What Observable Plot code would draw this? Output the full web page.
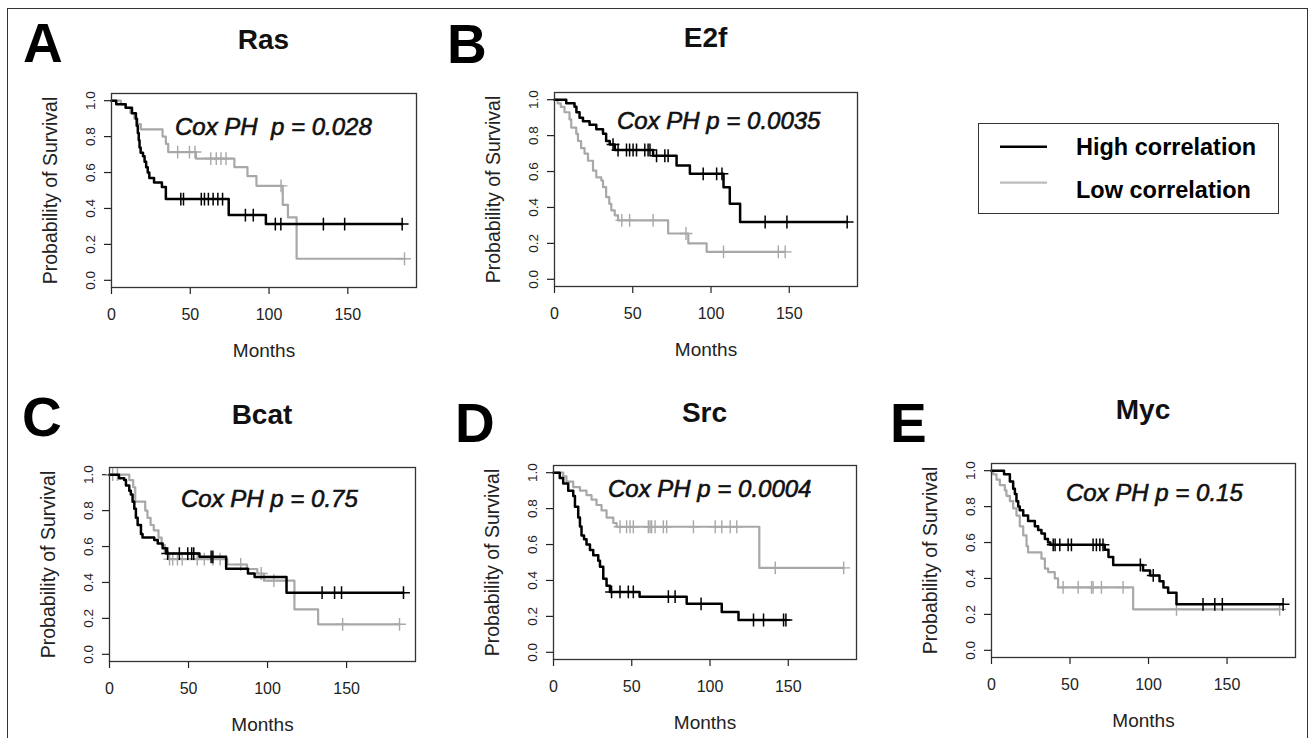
<!DOCTYPE html>
<html>
<head>
<meta charset="utf-8">
<script src="https://cdn.jsdelivr.net/npm/d3@7"></script>
<script src="https://cdn.jsdelivr.net/npm/@observablehq/plot@0.6"></script>
<style>
  body { margin: 0; background: #fff; font-family: "Liberation Sans", Arial, sans-serif; }
  #fig { position: relative; width: 1314px; height: 738px; overflow: hidden; background: #fff; }
  .abs { position: absolute; white-space: nowrap; line-height: 1; color: #111; }
  .panel { position: absolute; }
  .panel svg { overflow: visible; }
</style>
</head>
<body>
<div id="fig"></div>
<script>
// ---------------- DATA ----------------
const xTicks = [0, 50, 100, 150];
const yTicks = [0, 0.2, 0.4, 0.6, 0.8, 1.0];
const groups = ["High correlation", "Low correlation"];
const panelLetters = ["A", "B", "C", "D", "E"];
const panelTitles = ["Ras", "E2f", "Bcat", "Src", "Myc"];
const coxP = ["0.028", "0.0035", "0.75", "0.0004", "0.15"];

// Ras
const rasHighT = [0, 3, 9, 13, 15.5, 16, 16.7, 17.3, 17.8, 18.5, 20, 21, 22, 23, 24, 27, 32, 34.5, 74.4, 98];
const rasHighS = [1.0, 0.98, 0.96, 0.93, 0.90, 0.86, 0.82, 0.78, 0.74, 0.71, 0.69, 0.66, 0.63, 0.60, 0.57, 0.545, 0.52, 0.452, 0.363, 0.313];
const rasHighC = [44, 45.7, 57, 59, 61.5, 64.5, 67.5, 70.5, 85, 90, 104, 107.5, 134.5, 148, 184.5];
const rasLowT = [0, 6, 9, 12, 14.5, 16.5, 18.6, 32.4, 34.5, 36, 53.6, 78, 86.3, 92, 108.7, 112, 117.5];
const rasLowS = [1.0, 0.98, 0.96, 0.93, 0.90, 0.87, 0.84, 0.80, 0.76, 0.714, 0.678, 0.63, 0.58, 0.526, 0.42, 0.35, 0.12];
const rasLowC = [42, 49.5, 53, 63, 66.5, 69.5, 72.7, 107.6, 186];

// E2f
const e2fHighT = [0, 7.5, 12.8, 14, 16, 18.2, 22.4, 26.7, 31, 33, 35.3, 38.5, 63, 78, 86.5, 108, 112, 118.6];
const e2fHighS = [1.0, 0.98, 0.96, 0.93, 0.90, 0.88, 0.86, 0.835, 0.81, 0.77, 0.75, 0.72, 0.688, 0.633, 0.587, 0.513, 0.42, 0.319];
const e2fHighC = [37.4, 40.6, 46, 48, 50.2, 52.4, 57.7, 59.8, 61, 65.2, 70.5, 72.6, 95, 103.6, 107, 134.6, 148.5, 187];
const e2fLowT = [0, 2, 4, 6.4, 9.6, 10.7, 13.9, 15, 17, 19.2, 21.4, 24.6, 26.7, 29.9, 31, 33, 35, 36.3, 38.5, 40.6, 72.6, 85.5, 97.2];
const e2fLowS = [1.0, 0.98, 0.96, 0.93, 0.89, 0.845, 0.81, 0.77, 0.73, 0.70, 0.66, 0.605, 0.568, 0.55, 0.513, 0.458, 0.42, 0.384, 0.356, 0.328, 0.255, 0.2, 0.153];
const e2fLowC = [43, 48, 63, 84, 108, 143, 147.4];

// Bcat
const bcatHighT = [0, 6, 9.3, 10.4, 12.5, 13.5, 14.6, 15.7, 16.7, 17.8, 19.9, 20.9, 28.3, 30.5, 33.6, 35.8, 56.9, 73.8, 87.6, 91.8, 112];
const bcatHighS = [1.0, 0.98, 0.97, 0.94, 0.91, 0.89, 0.85, 0.81, 0.76, 0.72, 0.67, 0.65, 0.636, 0.617, 0.59, 0.561, 0.543, 0.476, 0.45, 0.43, 0.343];
const bcatHighC = [36.8, 44.2, 49.5, 52, 53.3, 64.3, 65.4, 134.5, 142.4, 146.8, 186];
const bcatLowT = [0, 12.5, 15, 16.3, 22.6, 24, 26, 28, 31, 33, 35, 37, 74.5, 87, 93.5, 97.7, 117, 132];
const bcatLowS = [1.0, 0.97, 0.93, 0.85, 0.80, 0.76, 0.72, 0.69, 0.65, 0.61, 0.57, 0.53, 0.50, 0.475, 0.45, 0.41, 0.25, 0.167];
const bcatLowC = [2, 5, 38, 40, 43, 46, 55.5, 60, 65.4, 70, 83, 96, 104, 147.5, 183.5];

// Src
const srcHighT = [0, 4, 6.2, 9.4, 12.6, 13.7, 15.8, 16.9, 17.9, 19.5, 21.1, 23.3, 25.4, 28.6, 29.7, 31.8, 33.9, 36.1, 55, 85.1, 107.5, 118.2];
const srcHighS = [1.0, 0.97, 0.94, 0.90, 0.87, 0.81, 0.75, 0.70, 0.65, 0.63, 0.60, 0.57, 0.54, 0.51, 0.476, 0.41, 0.37, 0.336, 0.31, 0.27, 0.225, 0.18];
const srcHighC = [37.1, 42.5, 47.8, 51, 73.4, 77.7, 94.3, 127.8, 134.2, 147, 148.5];
const srcLowT = [0, 6.2, 8.3, 12.6, 16.9, 21.1, 24.3, 27.5, 30.7, 33.9, 38.2, 40.3, 131.5];
const srcLowS = [1.0, 0.98, 0.95, 0.92, 0.90, 0.875, 0.85, 0.82, 0.79, 0.75, 0.72, 0.699, 0.47];
const srcLowC = [42.5, 46.7, 48.9, 51, 60.6, 61.7, 62.7, 64.9, 70.2, 72.3, 89.4, 103.3, 107.5, 112.9, 117.1, 141.7, 185.4];

// Myc
const mycHighT = [0, 8, 11.7, 13.8, 14.9, 15.9, 17, 18, 20.2, 23.3, 27.6, 29.7, 31.8, 34, 36, 37.5, 72.1, 74.5, 77.5, 96.5, 101, 107, 109.5, 112.5, 117.8];
const mycHighS = [1.0, 0.98, 0.94, 0.90, 0.87, 0.83, 0.80, 0.78, 0.75, 0.72, 0.69, 0.67, 0.65, 0.62, 0.60, 0.587, 0.56, 0.52, 0.475, 0.445, 0.417, 0.385, 0.35, 0.32, 0.256];
const mycHighC = [39.3, 40.5, 43.5, 48.8, 50.9, 64.7, 66.8, 69, 71, 94.8, 103, 134.7, 142.2, 147, 185.7];
const mycLowT = [0, 1, 3.2, 5.3, 8.5, 9.5, 11.7, 13.8, 15.9, 18, 20.2, 22.3, 23.3, 31.8, 34, 36.1, 40.3, 42.4, 90.2];
const mycLowS = [1.0, 0.98, 0.95, 0.92, 0.89, 0.86, 0.83, 0.79, 0.75, 0.69, 0.64, 0.58, 0.545, 0.51, 0.455, 0.435, 0.40, 0.35, 0.228];
const mycLowC = [45.6, 55.2, 63.7, 64.7, 70, 83.8, 117.8, 183.5];

const highSeries = [[rasHighT, rasHighS, rasHighC], [e2fHighT, e2fHighS, e2fHighC], [bcatHighT, bcatHighS, bcatHighC], [srcHighT, srcHighS, srcHighC], [mycHighT, mycHighS, mycHighC]];
const lowSeries = [[rasLowT, rasLowS, rasLowC], [e2fLowT, e2fLowS, e2fLowC], [bcatLowT, bcatLowS, bcatLowC], [srcLowT, srcLowS, srcLowC], [mycLowT, mycLowS, mycLowC]];

// ---------------- LAYOUT ----------------
const colorHigh = "#000000";
const colorLow = "#a8a8a8";
const frames = [
  {L: 111, T: 93, W: 305, H: 194, letter: [23, 63], title: 50, cox: [175, 135]},
  {L: 554, T: 92, W: 303, H: 194, letter: [447, 64], title: 48, cox: [617, 129.5]},
  {L: 109, T: 467, W: 306, H: 194, letter: [22, 437], title: 425, cox: [181, 507.5]},
  {L: 553, T: 465, W: 303, H: 194, letter: [455, 443], title: 423, cox: [608, 497.5]},
  {L: 991, T: 463, W: 304, H: 194, letter: [890, 443], title: 420, cox: [1066, 501.5]}
];
const ML = 84, MT = 10, MR = 14, MB = 84;

const fig = document.getElementById("fig");

function addText(txt, x, baseline, size, opts = {}) {
  const d = document.createElement("div");
  d.className = "abs";
  d.textContent = txt;
  d.style.fontSize = size + "px";
  d.style.top = (baseline - 0.8465 * size) + "px";
  if (opts.center) { d.style.left = x + "px"; d.style.transform = "translateX(-50%)"; }
  else d.style.left = x + "px";
  if (opts.bold) d.style.fontWeight = "bold";
  if (opts.italic) d.style.fontStyle = "italic";
  fig.appendChild(d);
  return d;
}

function stepPoints(T, S, C) {
  const end = Math.max(d3.max(T), d3.max(C));
  const pts = T.map((t, i) => ({t, s: S[i]}));
  pts.push({t: end, s: S[S.length - 1]});
  return pts;
}
function censorPoints(T, S, C) {
  return C.map(c => {
    let v = S[0];
    for (let i = 0; i < T.length; i++) if (T[i] <= c) v = S[i];
    return {t: c, s: v};
  });
}

// outer border
const border = document.createElement("div");
border.style.cssText = "position:absolute;left:7px;top:8px;width:1301px;height:760px;border:1px solid #333;box-sizing:border-box;";
fig.appendChild(border);

frames.forEach((f, i) => {
  const [hT, hS, hC] = highSeries[i];
  const [lT, lS, lC] = lowSeries[i];
  const plot = Plot.plot({
    width: ML + f.W + MR,
    height: MT + f.H + MB,
    marginLeft: ML, marginTop: MT, marginRight: MR, marginBottom: MB,
    x: {domain: [0, 193.6]},
    y: {domain: [-0.04, 1.04]},
    style: {fontFamily: "'Liberation Sans', Arial, sans-serif", background: "transparent", color: "#222"},
    marks: [
      Plot.axisX({ticks: xTicks, tickSize: 7, tickPadding: 14, fontSize: 16, label: null, color: "#222", strokeWidth: 1.2}),
      Plot.axisY({ticks: yTicks, tickFormat: d3.format(".1f"), tickRotate: -90, tickSize: 7, tickPadding: 10, fontSize: 13.5, label: null, color: "#222", strokeWidth: 1.2}),
      Plot.text(["Months"], {text: d => d, frameAnchor: "bottom", dy: 69, lineAnchor: "bottom", fontSize: 19, fill: "#222"}),
      Plot.text(["Probability of Survival"], {text: d => d, frameAnchor: "left", dx: -68, rotate: -90, textAnchor: "middle", lineAnchor: "top", fontSize: 19.5, fill: "#222"}),
      Plot.line(stepPoints(lT, lS, lC), {x: "t", y: "s", curve: "step-after", stroke: colorLow, strokeWidth: 2.2}),
      Plot.dot(censorPoints(lT, lS, lC), {x: "t", y: "s", symbol: "plus", r: 4.2, stroke: colorLow, fill: "none", strokeWidth: 1.4}),
      Plot.line(stepPoints(hT, hS, hC), {x: "t", y: "s", curve: "step-after", stroke: colorHigh, strokeWidth: 2.5}),
      Plot.dot(censorPoints(hT, hS, hC), {x: "t", y: "s", symbol: "plus", r: 4.2, stroke: colorHigh, fill: "none", strokeWidth: 1.5}),
      Plot.frame({stroke: "#333", strokeWidth: 1.3})
    ]
  });
  const wrap = document.createElement("div");
  wrap.className = "panel";
  wrap.style.left = (f.L - ML) + "px";
  wrap.style.top = (f.T - MT) + "px";
  wrap.appendChild(plot);
  fig.appendChild(wrap);

  addText(panelLetters[i], f.letter[0], f.letter[1], 55, {bold: true}).style.color = "#000";
  addText(panelTitles[i], f.L + f.W / 2, f.title, 28, {bold: true, center: true});
  const gap = i === 0 ? "\u00a0 " : " ";
  const cox = addText("Cox PH" + gap + "p = " + coxP[i], f.cox[0], f.cox[1], 24, {italic: true});
  cox.style.webkitTextStroke = "0.6px #111";
});

// legend
const leg = document.createElement("div");
leg.style.cssText = "position:absolute;left:978px;top:123px;width:301px;height:91px;border:1.3px solid #333;box-sizing:border-box;background:#fff;";
fig.appendChild(leg);
const legSvg = d3.select(fig).append("svg")
  .attr("width", 60).attr("height", 60)
  .style("position", "absolute").style("left", "995px").style("top", "130px");
legSvg.selectAll("line").data(groups).join("line")
  .attr("x1", 5).attr("x2", 52)
  .attr("y1", (d, i) => 16.7 + i * 36).attr("y2", (d, i) => 16.7 + i * 36)
  .attr("stroke", (d, i) => i === 0 ? colorHigh : "#bdbdbd")
  .attr("stroke-width", (d, i) => i === 0 ? 2.6 : 2.2);
groups.forEach((g, i) => addText(g, 1076, 156 + i * 43, 23.5, {bold: true}).style.color = "#000");
</script>
</body>
</html>
